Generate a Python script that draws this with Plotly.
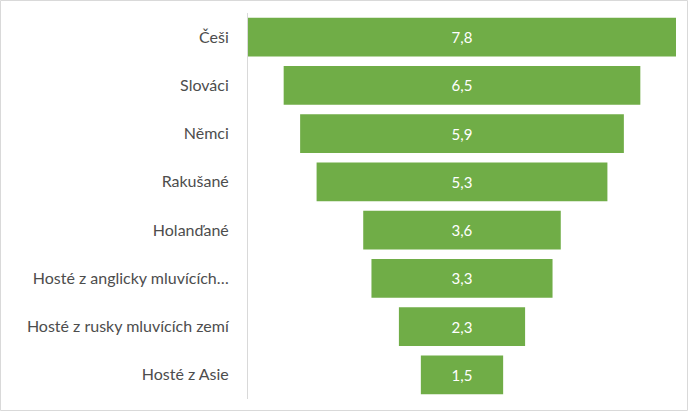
import plotly.graph_objects as go

categories = ["Češi", "Slováci", "Němci", "Rakušané", "Holanďané",
              "Hosté z anglicky mluvících…", "Hosté z rusky mluvících zemí", "Hosté z Asie"]
values = [7.8, 6.5, 5.9, 5.3, 3.6, 3.3, 2.3, 1.5]

W, H = 689, 412
L, R, T, B = 248, 13, 13, 13

fig = go.Figure(go.Funnel(
    y=categories,
    x=values,
    texttemplate="%{x:.1f}",
    textposition="inside",
    insidetextfont=dict(color="white", size=15, family="Lato"),
    marker=dict(color="#70AD47", line=dict(width=0)),
    connector=dict(visible=False),
    hoverinfo="y+x",
))

pw = W - L - R
ph = H - T - B
fig.update_layout(
    width=W, height=H,
    margin=dict(l=L, r=R, t=T, b=B),
    paper_bgcolor="white", plot_bgcolor="white",
    separators=", ",
    bargap=0.065,
    showlegend=False,
    font=dict(family="Lato", color="#4d4d4d", size=16),
    xaxis=dict(range=[-3.9, 3.9], visible=False, fixedrange=True),
    yaxis=dict(showline=True, linecolor="#d9d9d9", linewidth=1,
               ticks="", ticklabelstandoff=15, automargin=False, fixedrange=True,
               tickfont=dict(family="Lato", size=16, color="#4d4d4d")),
    shapes=[dict(type="rect", xref="paper", yref="paper",
                 x0=(-L + 0.5) / pw, x1=1 + (R - 1.5) / pw,
                 y0=(-B + 1.5) / ph, y1=1 + (T - 0.5) / ph,
                 line=dict(color="#d9d9d9", width=1), layer="above")],
)

fig.write_html("out.html", config={"displayModeBar": False},
               post_script="document.body.style.margin='0';document.body.style.padding='0';")
